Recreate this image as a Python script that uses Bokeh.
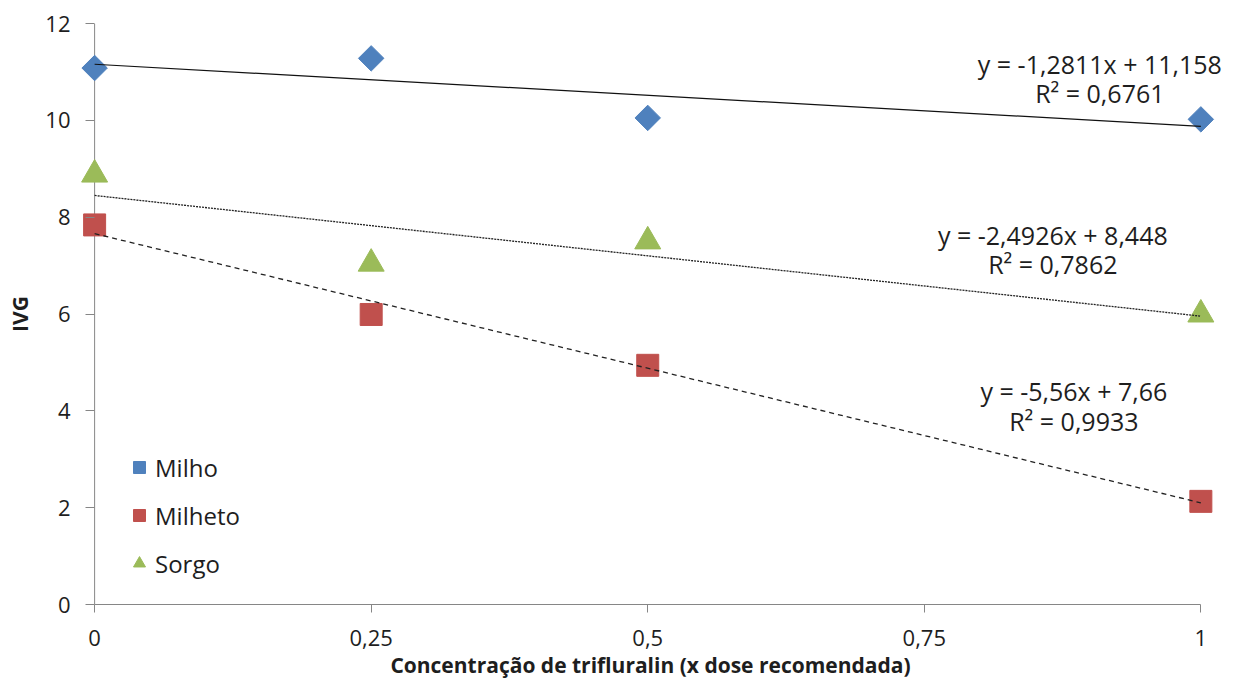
from math import pi
from bokeh.plotting import figure
from bokeh.models import (Range1d, Label, Legend, LegendItem, FixedTicker,
                          CustomJSTickFormatter, Span)
from bokeh.embed import file_html
from bokeh.resources import INLINE

# ---- data ----
doses = [0, 0.25, 0.5, 1]
milho = [11.08, 11.28, 10.05, 10.02]
milheto = [7.84, 5.99, 4.94, 2.13]
sorgo = [8.88, 7.04, 7.50, 5.99]

# linear trendlines (as printed on the chart)
milho_fit = (-1.2811, 11.158, 0.6761)
milheto_fit = (-5.56, 7.66, 0.9933)
sorgo_fit = (-2.4926, 8.448, 0.7862)

x_ticks = [0, 0.25, 0.5, 0.75, 1]
y_ticks = [0, 2, 4, 6, 8, 10, 12]

FONT = "Open Sans"
TXT = "#1e1e1e"
AXIS = "#868686"


def eq_text(fit):
    m, b, _ = fit
    return "y = %sx + %s" % (str(m).replace(".", ","), str(b).replace(".", ","))


def r2_text(fit):
    return "R² = %s" % str(fit[2]).replace(".", ",")


p = figure(width=1237, height=684,
           x_range=Range1d(-0.02, 1.025), y_range=Range1d(0, 12),
           output_backend="svg", toolbar_location=None,
           min_border_left=72, min_border_right=9,
           min_border_top=23, min_border_bottom=80)
p.outline_line_color = None
p.grid.visible = False
p.background_fill_color = "white"

# axes
p.xaxis.ticker = FixedTicker(ticks=x_ticks)
p.xaxis.formatter = CustomJSTickFormatter(code="return tick.toString().replace('.', ',');")
p.xaxis.bounds = (0, 1)
p.yaxis.ticker = FixedTicker(ticks=y_ticks)
for ax in (p.xaxis[0], p.yaxis[0]):
    ax.axis_line_color = AXIS
    ax.axis_line_width = 1
    ax.major_tick_line_color = AXIS
    ax.minor_tick_line_color = None
    ax.major_label_text_font = FONT
    ax.major_label_text_font_size = "22px"
    ax.major_label_text_color = TXT
    ax.axis_label_text_font = FONT
    ax.axis_label_text_font_size = "21px"
    ax.axis_label_text_font_style = "bold"
    ax.axis_label_text_color = TXT
p.xaxis.major_tick_in = 0
p.xaxis.major_tick_out = 8
p.xaxis.major_label_standoff = 17
p.xaxis.axis_label = "Concentração de trifluralin (x dose recomendada)"
p.xaxis.axis_label_standoff = 2
# y axis sits at the frame edge; its ticks are drawn inward to reach x = 0
p.yaxis.axis_line_color = None
p.yaxis.major_tick_out = -13
p.yaxis.major_tick_in = 22
p.yaxis.major_label_standoff = 2
p.yaxis.axis_label = "IVG"
p.yaxis.axis_label_standoff = 8

# y axis line at x = 0
p.add_layout(Span(location=0, dimension="height", line_color=AXIS,
                  line_width=1, level="underlay"))

# markers
r_milho = p.scatter(doses, milho, marker="square", angle=pi / 4, size=18,
                    fill_color="#4F81BD", line_color="#4F81BD")
r_milheto = p.scatter(doses, milheto, marker="square", size=22,
                      fill_color="#C0504D", line_color="#C0504D")
r_sorgo = p.scatter(doses, sorgo, marker="triangle", size=26,
                    fill_color="#9BBB59", line_color="#9BBB59")

# trendlines
ends = [0, 1]
p.line(ends, [milho_fit[1] + milho_fit[0] * x for x in ends],
       line_color="#111111", line_width=1.2)
p.line(ends, [sorgo_fit[1] + sorgo_fit[0] * x for x in ends],
       line_color="#222222", line_width=1.3, line_dash="2 1")
p.line(ends, [milheto_fit[1] + milheto_fit[0] * x for x in ends],
       line_color="#222222", line_width=1.3, line_dash="5 4")

# legend
legend = Legend(items=[LegendItem(label="Milho", renderers=[r_milho]),
                       LegendItem(label="Milheto", renderers=[r_milheto]),
                       LegendItem(label="Sorgo", renderers=[r_sorgo])],
                location=(52, 23), orientation="vertical",
                glyph_width=30, glyph_height=36, spacing=12,
                padding=0, margin=0, label_standoff=1,
                border_line_color=None, background_fill_alpha=0,
                label_text_font=FONT, label_text_font_size="24px",
                label_text_color=TXT)
p.add_layout(legend, "center")


# equation labels
def add_label(x, y, text, size="25px"):
    p.add_layout(Label(x=x, y=y, text=text, text_align="center",
                       text_baseline="middle", text_font=FONT,
                       text_font_size=size, text_color=TXT))


add_label(0.9087, 11.16, eq_text(milho_fit))
add_label(0.9087, 10.57, r2_text(milho_fit))
add_label(0.8662, 7.64, eq_text(sorgo_fit))
add_label(0.8662, 7.04, r2_text(sorgo_fit))
add_label(0.8852, 4.40, eq_text(milheto_fit))
add_label(0.8852, 3.78, r2_text(milheto_fit))

open("out.html", "w").write(file_html(p, INLINE))
